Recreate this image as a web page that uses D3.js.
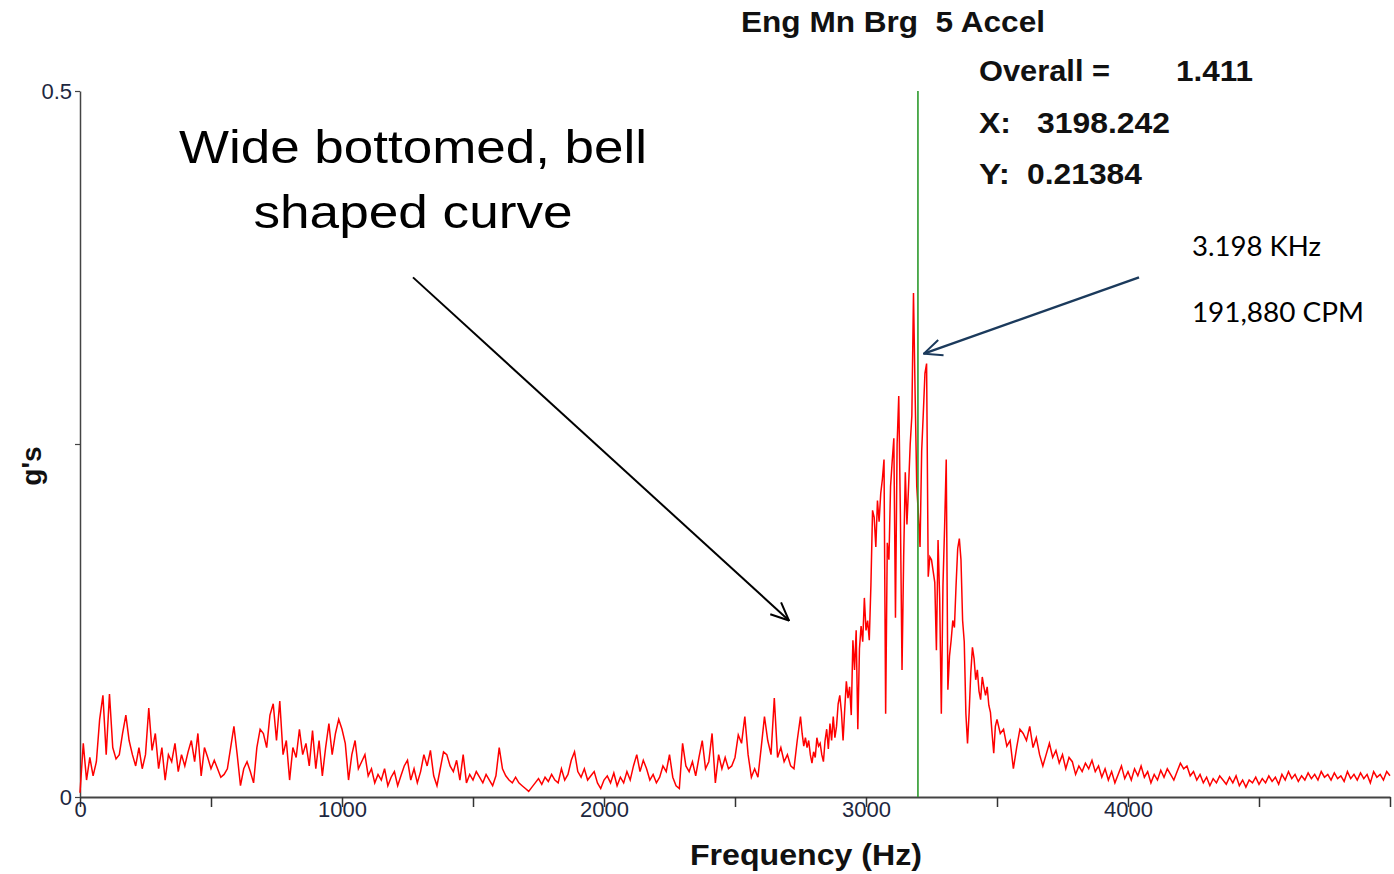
<!DOCTYPE html>
<html>
<head>
<meta charset="utf-8">
<script src="https://cdn.jsdelivr.net/npm/d3@7"></script>
<style>
  body { margin: 0; background: #fff; }
  svg { display: block; }
  text { font-family: "Liberation Sans", Arial, sans-serif; }
</style>
</head>
<body>
<div id="chart"></div>
<script>

// spectrum amplitudes (g's)
// 0 - 2750 Hz every 12.5 Hz
var amp0to1k = [
  0.003,0.038,0.012,0.028,0.015,0.025,0.055,0.072,0.030,0.073,
  0.035,0.027,0.030,0.045,0.058,0.040,0.030,0.022,0.035,0.020,
  0.030,0.063,0.033,0.045,0.020,0.035,0.012,0.030,0.025,0.038,
  0.018,0.030,0.022,0.032,0.040,0.025,0.045,0.015,0.035,0.028,
  0.020,0.026,0.020,0.014,0.016,0.020,0.035,0.050,0.030,0.008,
  0.020,0.025,0.018,0.010,0.035,0.048,0.045,0.035,0.058,0.066,
  0.040,0.068,0.030,0.040,0.012,0.035,0.028,0.048,0.030,0.038,
  0.022,0.047,0.020,0.040,0.015,0.035,0.052,0.030,0.045,0.055];

var amp1kto2k = [
  0.048,0.038,0.012,0.030,0.040,0.020,0.025,0.030,0.015,0.020,
  0.010,0.016,0.012,0.020,0.008,0.014,0.018,0.008,0.015,0.022,
  0.026,0.012,0.020,0.010,0.018,0.030,0.022,0.033,0.015,0.008,
  0.020,0.032,0.030,0.022,0.018,0.026,0.012,0.030,0.010,0.016,
  0.012,0.018,0.014,0.010,0.016,0.012,0.008,0.015,0.035,0.020,
  0.015,0.012,0.010,0.014,0.010,0.008,0.006,0.004,0.007,0.010,
  0.013,0.009,0.014,0.011,0.016,0.012,0.010,0.020,0.012,0.016,
  0.026,0.032,0.018,0.014,0.020,0.012,0.015,0.018,0.010,0.006];

var amp2kto2750 = [
  0.012,0.015,0.010,0.017,0.008,0.014,0.010,0.018,0.012,0.022,
  0.030,0.018,0.026,0.020,0.012,0.016,0.010,0.014,0.022,0.018,
  0.030,0.014,0.008,0.006,0.038,0.022,0.018,0.025,0.015,0.028,
  0.040,0.020,0.025,0.045,0.010,0.030,0.020,0.028,0.020,0.022,
  0.028,0.044,0.038,0.057,0.030,0.014,0.020,0.014,0.035,0.057,
  0.040,0.030,0.070,0.028,0.035,0.025,0.030,0.022,0.020,0.040];

// 2750 - 3500 Hz every 6.25 Hz (the bell)
var amp2750to3500 = [
  0.057,0.045,0.036,0.042,0.035,0.040,0.030,0.024,0.032,0.028,
  0.042,0.036,0.038,0.030,0.025,0.040,0.048,0.034,0.052,0.040,
  0.057,0.042,0.050,0.066,0.072,0.060,0.040,0.062,0.082,0.070,
  0.078,0.058,0.111,0.090,0.118,0.048,0.105,0.121,0.110,0.141,
  0.118,0.125,0.111,0.150,0.203,0.198,0.177,0.210,0.195,0.215,
  0.225,0.239,0.059,0.180,0.168,0.220,0.238,0.254,0.127,0.250,
  0.284,0.200,0.090,0.170,0.230,0.193,0.220,0.250,0.270,0.357,
  0.285,0.220,0.200,0.177,0.245,0.272,0.300,0.307,0.156,0.170,
  0.168,0.160,0.152,0.104,0.182,0.140,0.059,0.150,0.191,0.239,
  0.076,0.100,0.111,0.125,0.120,0.150,0.176,0.183,0.168,0.125,
  0.110,0.059,0.038,0.060,0.088,0.106,0.098,0.083,0.090,0.075,
  0.069,0.085,0.078,0.072,0.078,0.065,0.060,0.045,0.031,0.050];

// 3500 - 5000 Hz every 12.5 Hz
var amp3500to5k = [
  0.055,0.045,0.048,0.036,0.040,0.020,0.035,0.048,0.045,0.040,
  0.050,0.035,0.042,0.030,0.022,0.030,0.038,0.028,0.033,0.024,
  0.030,0.020,0.028,0.025,0.016,0.022,0.018,0.024,0.020,0.026,
  0.018,0.022,0.014,0.020,0.012,0.018,0.010,0.016,0.022,0.013,
  0.018,0.012,0.020,0.015,0.022,0.014,0.018,0.010,0.016,0.012,
  0.019,0.014,0.020,0.016,0.012,0.018,0.024,0.020,0.022,0.015,
  0.018,0.012,0.016,0.010,0.014,0.008,0.013,0.010,0.015,0.012,
  0.009,0.014,0.010,0.015,0.008,0.012,0.007,0.012,0.010,0.014,
  0.009,0.013,0.010,0.015,0.011,0.014,0.009,0.016,0.012,0.018,
  0.013,0.016,0.011,0.015,0.012,0.017,0.013,0.016,0.012,0.018,
  0.014,0.016,0.012,0.017,0.013,0.015,0.011,0.018,0.013,0.016,
  0.012,0.017,0.013,0.016,0.010,0.018,0.014,0.016,0.012,0.018,0.015];

var segStartHz = [0, 1000, 2000, 2750, 3500];
var segStepHz = [12.5, 12.5, 12.5, 6.25, 12.5];

var xTicks = [0, 500, 1000, 1500, 2000, 2500, 3000, 3500, 4000, 4500, 5000];
var xTickLabels = ["0", "", "1000", "", "2000", "", "3000", "", "4000", "", ""];
var yTicks = [0, 0.25, 0.5];
var yTickLabels = ["0", "", "0.5"];

var chartTitle = "Eng Mn Brg  5 Accel";
var overallValue = "1.411";
var cursorX = 3198.242;
var cursorY = 0.21384;

// annotations, in data units (Hz, g)
var noteLines = ["Wide bottomed, bell", "shaped curve"];
var noteAt = [1271, 0.449];
var noteArrow = [[1271, 0.368], [2706, 0.125]];
var peakLines = ["3.198 KHz", "191,880 CPM"];
var peakAt = [4244, 0.383];
var peakArrow = [[4042, 0.368], [3221, 0.314]];

var segments = [amp0to1k, amp1kto2k, amp2kto2750, amp2750to3500, amp3500to5k];
var data = [];
segments.forEach(function(vals, s) {
  vals.forEach(function(a, i) {
    data.push({f: segStartHz[s] + i * segStepHz[s], g: a});
  });
});

var W = 1394, H = 874;
var margin = {top: 91, right: 4, bottom: 77, left: 80};

var x = d3.scaleLinear().domain([0, 5000]).range([margin.left, W - margin.right]);
var y = d3.scaleLinear().domain([0, 0.5]).range([H - margin.bottom, margin.top]);

var svg = d3.select("#chart").append("svg")
    .attr("width", W)
    .attr("height", H);

svg.append("rect").attr("width", W).attr("height", H).attr("fill", "#fff");

// axes
var xAxis = svg.append("g")
    .attr("transform", "translate(0," + y(0) + ")")
    .call(d3.axisBottom(x)
      .tickValues(xTicks)
      .tickSize(10)
      .tickSizeOuter(0)
      .tickPadding(-6)
      .tickFormat(function(d, i) { return xTickLabels[i]; }));
xAxis.select(".domain").attr("stroke", "#444").attr("stroke-width", 2);
xAxis.selectAll(".tick line").attr("stroke", "#333").attr("stroke-width", 1.5);
xAxis.selectAll(".tick text")
    .attr("fill", "#1d2740")
    .style("font-size", "22px");

var yAxis = svg.append("g")
    .attr("transform", "translate(" + x(0) + ",0)")
    .call(d3.axisLeft(y)
      .tickValues(yTicks)
      .tickSize(5)
      .tickSizeOuter(0)
      .tickPadding(3)
      .tickFormat(function(d, i) { return yTickLabels[i]; }));
yAxis.select(".domain").attr("stroke", "#444").attr("stroke-width", 1.5);
yAxis.selectAll(".tick line").attr("stroke", "#444").attr("stroke-width", 1.2);
yAxis.selectAll(".tick text")
    .attr("fill", "#1d2740")
    .style("font-size", "22px");

// spectrum
var line = d3.line()
    .x(function(d) { return x(d.f); })
    .y(function(d) { return y(d.g); });

svg.append("path")
    .datum(data)
    .attr("fill", "none")
    .attr("stroke", "#ff0000")
    .attr("stroke-width", 1.5)
    .attr("d", line);

// cursor
svg.append("line")
    .attr("x1", x(cursorX)).attr("x2", x(cursorX))
    .attr("y1", y(0)).attr("y2", y(0.5))
    .attr("stroke", "#2c9a2c")
    .attr("stroke-width", 1.6);

// titles and readout
function boldText(g, tx, ty, str, len) {
  var t = g.append("text")
      .attr("x", tx).attr("y", ty)
      .style("font-size", "29px").style("font-weight", "bold")
      .style("white-space", "pre")
      .attr("fill", "#111")
      .text(str);
  if (len) t.attr("textLength", len).attr("lengthAdjust", "spacingAndGlyphs");
  return t;
}

boldText(svg, 741, 32, chartTitle, 304);
boldText(svg, 979, 81, "Overall =", 131);
boldText(svg, 1176, 81, overallValue, 77);
boldText(svg, 979, 133, "X:", 32);
boldText(svg, 1037, 133, cursorX.toFixed(3), 133);
boldText(svg, 979, 184, "Y:", 31);
boldText(svg, 1027, 184, cursorY.toFixed(5), 115);
boldText(svg, 690, 865, "Frequency (Hz)", 232);

svg.append("text")
    .attr("transform", "translate(41," + ((y(0) + y(0.5)) / 2 + 22) + ") rotate(-90)")
    .attr("text-anchor", "middle")
    .style("font-size", "28px").style("font-weight", "bold")
    .attr("fill", "#111")
    .text("g's");

// annotations
var defs = svg.append("defs");
function arrowHead(id, color) {
  defs.append("marker")
      .attr("id", id)
      .attr("viewBox", "0 0 20 20")
      .attr("refX", 19).attr("refY", 10)
      .attr("markerWidth", 20).attr("markerHeight", 20)
      .attr("markerUnits", "userSpaceOnUse")
      .attr("orient", "auto")
    .append("path")
      .attr("d", "M1,2 L19,10 L1,18")
      .attr("fill", "none")
      .attr("stroke", color)
      .attr("stroke-width", 2);
}
arrowHead("headBlack", "#000");
arrowHead("headNavy", "#1b3a5c");

var noteLen = [468, 319];
svg.append("g")
    .selectAll("text")
    .data(noteLines)
    .enter().append("text")
    .attr("x", x(noteAt[0]))
    .attr("y", function(d, i) { return y(noteAt[1]) + i * 65; })
    .attr("text-anchor", "middle")
    .attr("textLength", function(d, i) { return noteLen[i]; })
    .attr("lengthAdjust", "spacingAndGlyphs")
    .style("font-size", "47px")
    .attr("fill", "#000")
    .text(function(d) { return d; });

svg.append("line")
    .attr("x1", x(noteArrow[0][0])).attr("y1", y(noteArrow[0][1]))
    .attr("x2", x(noteArrow[1][0])).attr("y2", y(noteArrow[1][1]))
    .attr("stroke", "#000").attr("stroke-width", 2)
    .attr("marker-end", "url(#headBlack)");

var peakLen = [129, 172];
svg.append("g")
    .selectAll("text")
    .data(peakLines)
    .enter().append("text")
    .attr("x", x(peakAt[0]))
    .attr("y", function(d, i) { return y(peakAt[1]) + i * 66; })
    .attr("textLength", function(d, i) { return peakLen[i]; })
    .attr("lengthAdjust", "spacingAndGlyphs")
    .style("font-family", "Lato, 'Open Sans', sans-serif")
    .style("font-size", "26px")
    .attr("fill", "#000")
    .text(function(d) { return d; });

svg.append("line")
    .attr("x1", x(peakArrow[0][0])).attr("y1", y(peakArrow[0][1]))
    .attr("x2", x(peakArrow[1][0])).attr("y2", y(peakArrow[1][1]))
    .attr("stroke", "#1b3a5c").attr("stroke-width", 2.5)
    .attr("marker-end", "url(#headNavy)");

</script>
</body>
</html>
